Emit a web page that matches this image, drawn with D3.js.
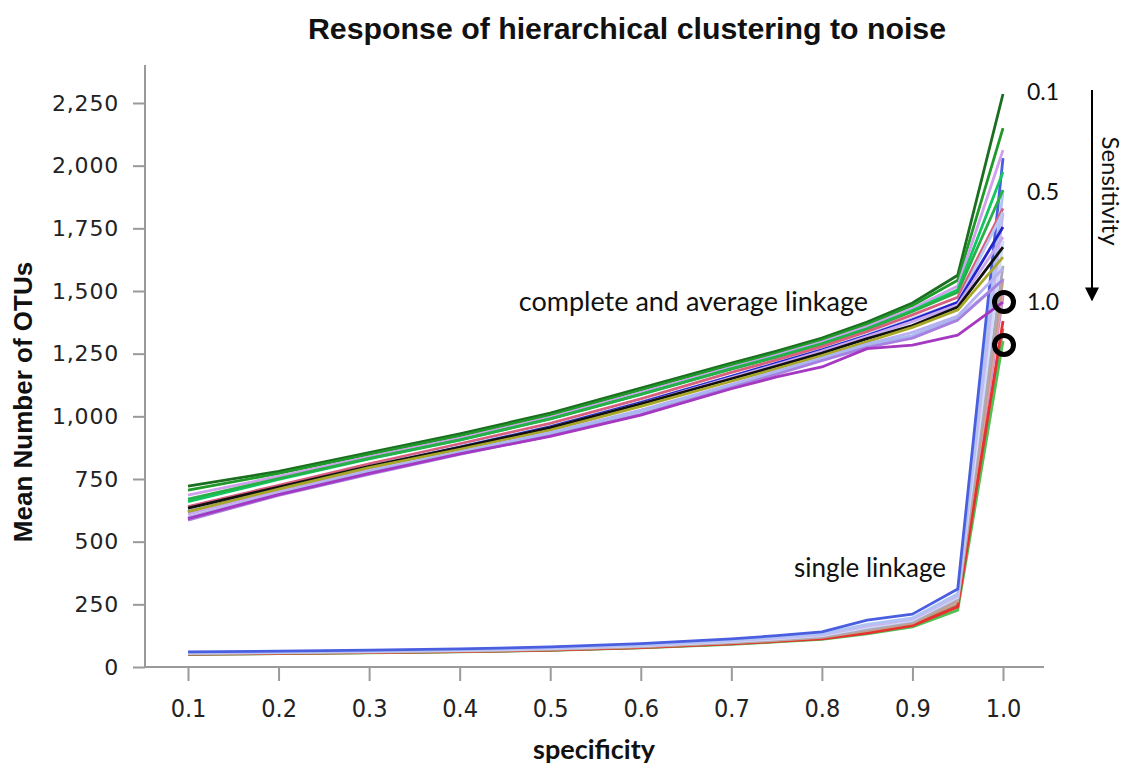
<!DOCTYPE html>
<html>
<head>
<meta charset="utf-8">
<script src="https://cdn.jsdelivr.net/npm/d3@7"></script>
<style>
  html, body { margin: 0; padding: 0; background: #fff; }
  svg { display: block; }
</style>
</head>
<body>
<svg id="chart" width="1129" height="767"></svg>
<script>
// ---------------- data ----------------
const specificity = [0.1, 0.2, 0.3, 0.4, 0.5, 0.6, 0.7, 0.75, 0.8, 0.85, 0.9, 0.95, 1.0];
const xTickValues = [0.1, 0.2, 0.3, 0.4, 0.5, 0.6, 0.7, 0.8, 0.9, 1.0];
const yTickValues = [0, 250, 500, 750, 1000, 1250, 1500, 1750, 2000, 2250];

// complete and average linkage (one line per sensitivity setting)
const completeColors = ["#1b6e1f", "#1f9a2a", "#d0a0ec", "#10c860", "#28b048", "#d8607e", "#b8c8f4", "#2424c8",
                        "#c8a8ee", "#111111", "#a8a828", "#b8b0f0", "#a8b8f0", "#a880e0", "#a438c0"];
const complete1  = [722, 780, 855, 930, 1013, 1113, 1212, 1260, 1312, 1376, 1452, 1563, 2286];
const complete2  = [706, 772, 848, 922, 1005, 1105, 1205, 1252, 1305, 1368, 1442, 1543, 2150];
const complete3  = [686, 760, 838, 912, 996, 1095, 1195, 1244, 1296, 1358, 1430, 1520, 2062];
const complete4  = [660, 748, 830, 905, 990, 1088, 1190, 1238, 1290, 1350, 1422, 1505, 1975];
const complete5  = [670, 752, 832, 906, 990, 1088, 1188, 1236, 1288, 1348, 1418, 1495, 1903];
const complete6  = [640, 725, 810, 890, 972, 1070, 1175, 1225, 1278, 1338, 1405, 1475, 1830];
const complete7  = [625, 715, 800, 880, 960, 1058, 1160, 1210, 1262, 1325, 1390, 1455, 1815];
const complete8  = [618, 712, 796, 876, 958, 1055, 1160, 1212, 1265, 1322, 1385, 1455, 1755];
const complete9  = [610, 705, 792, 872, 954, 1050, 1155, 1206, 1260, 1318, 1378, 1445, 1715];
const complete10 = [634, 718, 800, 876, 955, 1050, 1150, 1200, 1252, 1310, 1362, 1436, 1675];
const complete11 = [620, 710, 795, 868, 945, 1040, 1140, 1190, 1242, 1298, 1355, 1424, 1635];
const complete12 = [598, 695, 782, 858, 935, 1025, 1128, 1180, 1232, 1288, 1335, 1400, 1590];
const complete13 = [595, 690, 778, 855, 930, 1020, 1122, 1175, 1228, 1285, 1322, 1392, 1545];
const complete14 = [586, 685, 768, 848, 922, 1008, 1115, 1168, 1222, 1275, 1312, 1384, 1545];
const complete15 = [592, 688, 772, 850, 920, 1005, 1110, 1157, 1197, 1270, 1284, 1324, 1456];

// single linkage
const singleColors = ["#c080e0", "#e0a0b0", "#a08060", "#50c050", "#e83030", "#c0a080", "#b0a8b8",
                      "#d0dcf8", "#c8b8f0", "#b0c4f4", "#4a5ee0"];
const single1  = [52, 55, 58, 62, 68, 78, 93, 103, 114, 138, 168, 245, 1480];
const single2  = [52, 55, 58, 62, 68, 78, 94, 104, 116, 140, 170, 250, 1500];
const single3  = [50, 53, 57, 61, 67, 77, 92, 102, 113, 137, 166, 245, 1350];
const single4  = [50, 53, 56, 60, 66, 76, 90, 100, 110, 132, 160, 227, 1300];
const single5  = [51, 54, 57, 61, 67, 77, 92, 102, 112, 135, 165, 240, 1380];
const single6  = [53, 56, 59, 63, 70, 80, 96, 106, 118, 145, 175, 262, 1550];
const single7  = [54, 57, 60, 65, 71, 82, 98, 108, 120, 150, 180, 270, 1600];
const single8  = [55, 58, 62, 66, 73, 84, 101, 112, 125, 158, 186, 278, 1700];
const single9  = [56, 59, 63, 68, 75, 86, 104, 115, 128, 163, 190, 283, 1810];
const single10 = [57, 60, 64, 69, 77, 88, 107, 119, 132, 170, 196, 292, 1900];
const single11 = [60, 63, 67, 72, 80, 93, 112, 125, 140, 187, 211, 311, 2030];

const completeSeries = [complete1, complete2, complete3, complete4, complete5, complete6, complete7, complete8,
                        complete9, complete10, complete11, complete12, complete13, complete14, complete15];
const singleSeries = [single1, single2, single3, single4, single5, single6, single7, single8, single9, single10, single11];

const sensitivityLabels = ["0.1", "0.5", "1.0"];
const circledValues = [1456, 1285];

// ---------------- chart ----------------
const svg = d3.select("#chart");
const x = d3.scaleLinear().domain([0.1, 1.0]).range([188, 1003]);
const y = d3.scaleLinear().domain([0, 2250]).range([667, 103]);
const axisColor = "#9a9a9a";

// title
svg.append("text").attr("x", 627).attr("y", 39).attr("text-anchor", "middle")
  .attr("font-family", "Liberation Sans, Arial, sans-serif").attr("font-weight", "bold")
  .attr("font-size", 30.3).attr("fill", "#111").text("Response of hierarchical clustering to noise");

// axes lines
svg.append("line").attr("x1", 145).attr("x2", 145).attr("y1", 65).attr("y2", 668)
  .attr("stroke", axisColor).attr("stroke-width", 2);
svg.append("line").attr("x1", 144).attr("x2", 1044).attr("y1", 667).attr("y2", 667)
  .attr("stroke", axisColor).attr("stroke-width", 2);

// y axis
const yAxis = d3.axisLeft(y).tickValues(yTickValues).tickSize(12).tickPadding(14)
  .tickFormat(d3.format(","));
const gy = svg.append("g").attr("transform", "translate(145,0)").call(yAxis);
gy.select(".domain").remove();
gy.selectAll(".tick line").attr("stroke", axisColor).attr("stroke-width", 2);
gy.selectAll(".tick text").attr("font-family", "DejaVu Sans, sans-serif").attr("font-size", 22)
  .attr("fill", "#222").attr("letter-spacing", 0.8);

// x axis
const xAxis = d3.axisBottom(x).tickValues(xTickValues).tickSize(14).tickPadding(18)
  .tickFormat(d3.format(".1f"));
const gx = svg.append("g").attr("transform", "translate(0,667)").call(xAxis);
gx.select(".domain").remove();
gx.selectAll(".tick line").attr("stroke", axisColor).attr("stroke-width", 2);
gx.selectAll(".tick text").attr("font-family", "DejaVu Sans Condensed, DejaVu Sans, sans-serif")
  .attr("font-size", 25).attr("fill", "#222");

// axis labels
svg.append("text").attr("transform", "translate(32,402) rotate(-90)").attr("text-anchor", "middle")
  .attr("font-family", "Liberation Sans, Arial, sans-serif").attr("font-weight", "bold")
  .attr("font-size", 26).attr("fill", "#111").text("Mean Number of OTUs");
svg.append("text").attr("x", 594).attr("y", 759).attr("text-anchor", "middle")
  .attr("font-family", "Lato, sans-serif").attr("font-weight", "bold")
  .attr("font-size", 27).attr("fill", "#111").text("specificity");

// lines
const line = d3.line().x((d, i) => x(specificity[i])).y(d => y(d));
svg.append("g").selectAll("path").data(singleSeries).join("path")
  .attr("d", line).attr("fill", "none").attr("stroke", (d, i) => singleColors[i])
  .attr("stroke-width", 2.8).attr("stroke-linejoin", "round");
svg.append("g").selectAll("path").data(completeSeries).join("path")
  .attr("d", line).attr("fill", "none").attr("stroke", (d, i) => completeColors[i])
  .attr("stroke-width", 2.8).attr("stroke-linejoin", "round");

// circles
svg.append("g").selectAll("circle").data(circledValues).join("circle")
  .attr("cx", x(1.0) + 1).attr("cy", d => y(d)).attr("r", 9.5)
  .attr("fill", "none").attr("stroke", "#000").attr("stroke-width", 5);

// annotations
const annFont = "Lato, 'Open Sans', sans-serif";
svg.append("text").attr("x", 868).attr("y", 311).attr("text-anchor", "end")
  .attr("font-family", annFont).attr("font-size", 27).attr("fill", "#111")
  .text("complete and average linkage");
svg.append("text").attr("x", 946).attr("y", 577).attr("text-anchor", "end")
  .attr("font-family", annFont).attr("font-size", 26).attr("fill", "#111")
  .text("single linkage");
svg.append("g").selectAll("text").data(sensitivityLabels).join("text")
  .attr("x", 1027).attr("y", (d, i) => [100, 200, 310][i])
  .attr("font-family", annFont).attr("font-size", 23).attr("fill", "#111").text(d => d);
svg.append("text").attr("transform", "translate(1102,191) rotate(90)").attr("text-anchor", "middle")
  .attr("font-family", annFont).attr("font-size", 24).attr("fill", "#111").text("Sensitivity");

// arrow
const defs = svg.append("defs");
defs.append("marker").attr("id", "arrowhead").attr("viewBox", "0 0 10 10")
  .attr("refX", 9).attr("refY", 5).attr("markerWidth", 7).attr("markerHeight", 7)
  .attr("orient", "auto").attr("markerUnits", "strokeWidth")
  .append("path").attr("d", "M0,0 L10,5 L0,10 z").attr("fill", "#000");
svg.append("line").attr("x1", 1092).attr("x2", 1092).attr("y1", 90).attr("y2", 300)
  .attr("stroke", "#000").attr("stroke-width", 2).attr("marker-end", "url(#arrowhead)");
</script>
</body>
</html>
